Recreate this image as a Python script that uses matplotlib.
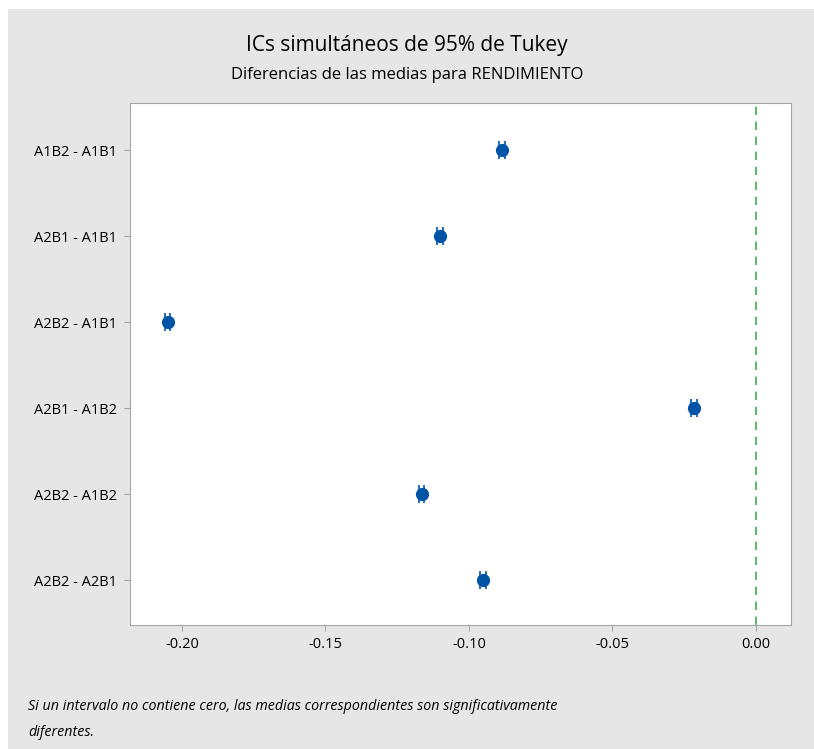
import matplotlib
matplotlib.use("Agg")
import matplotlib.pyplot as plt
from matplotlib.patches import Rectangle
from matplotlib import font_manager

# Data
comparisons = ["A1B2 - A1B1", "A2B1 - A1B1", "A2B2 - A1B1",
               "A2B1 - A1B2", "A2B2 - A1B2", "A2B2 - A2B1"]
diffs = [-0.0885, -0.1100, -0.2050, -0.0215, -0.1165, -0.0950]
lower = [-0.0895, -0.1110, -0.2060, -0.0225, -0.1175, -0.0960]
upper = [-0.0875, -0.1090, -0.2040, -0.0205, -0.1155, -0.0940]
xticks = [-0.20, -0.15, -0.10, -0.05, 0.00]
xticklabels = ["-0.20", "-0.15", "-0.10", "-0.05", "0.00"]

names = {f.name for f in font_manager.fontManager.ttflist}
fam = [f for f in ["Liberation Sans Narrow", "Open Sans", "DejaVu Sans"] if f in names]
plt.rcParams['font.family'] = fam

bg = "#e6e6e6"
fig = plt.figure(figsize=(8.14, 7.49), dpi=100, facecolor=bg)
# white margins top and left
fig.patches.append(Rectangle((0, 1 - 9/749), 1, 9/749, transform=fig.transFigure,
                             facecolor="white", edgecolor="none", zorder=-1))
fig.patches.append(Rectangle((0, 0), 8/814, 1, transform=fig.transFigure,
                             facecolor="white", edgecolor="none", zorder=-1))

ax = fig.add_axes([130/814, 1 - 625/749, (791 - 130)/814, (625 - 103)/749])
ax.set_facecolor("white")

ypos = list(range(1, len(comparisons) + 1))
blue = "#0054a6"
ax.errorbar(diffs, ypos,
            xerr=[[d - l for d, l in zip(diffs, lower)], [u - d for d, u in zip(diffs, upper)]],
            fmt='o', color=blue, ms=8.5, capsize=6.5, capthick=1.2, elinewidth=1.2, zorder=4)

ax.axvline(0, color="#3cae52", ls=(0, (5, 4)), lw=1.2, zorder=2)

ax.set_xlim(-0.2181, 0.0122)
ax.set_ylim(6.52, 0.45)
ax.set_yticks(ypos)
ax.set_yticklabels(comparisons, fontsize=10.5)
ax.set_xticks(xticks)
ax.set_xticklabels(xticklabels, fontsize=10.5)
for s in ax.spines.values():
    s.set_color("#a6a6a6")
ax.tick_params(axis='both', colors="#a6a6a6", length=4, labelcolor="black")
ax.tick_params(axis='x', pad=5)
ax.tick_params(axis='y', pad=5)

fig.text(0.5, 1 - 45/749, "ICs simultáneos de 95% de Tukey", ha="center", va="center",
         fontsize=15)
fig.text(0.5, 1 - 75/749, "Diferencias de las medias para RENDIMIENTO", ha="center",
         va="center", fontsize=12)
fig.text(28/814, 1 - 706/749, "Si un intervalo no contiene cero, las medias correspondientes son significativamente",
         ha="left", va="center", fontsize=10.3, style="italic")
fig.text(28/814, 1 - 733/749, "diferentes.", ha="left", va="center", fontsize=10.3, style="italic")

fig.savefig("out.png", dpi=100, facecolor=bg)
